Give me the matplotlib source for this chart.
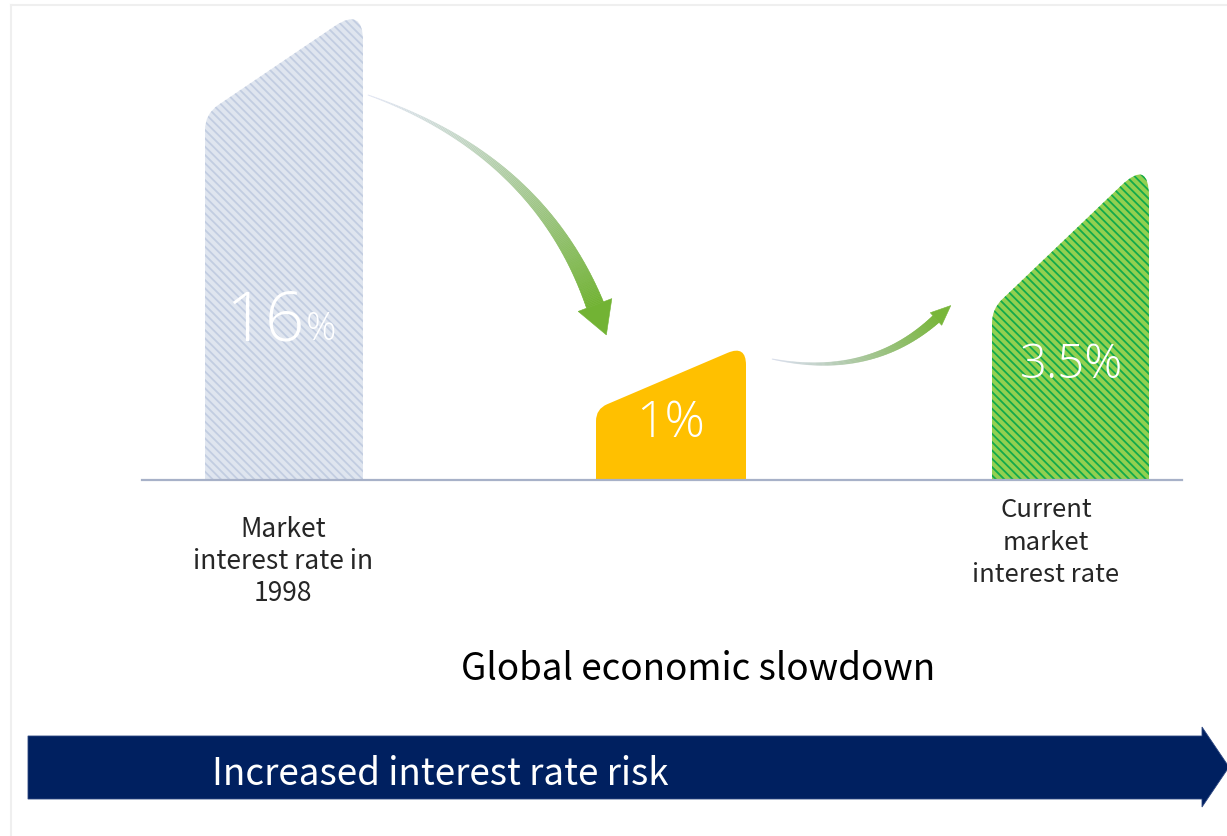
import numpy as np
import matplotlib
matplotlib.use("Agg")
import matplotlib.pyplot as plt
from matplotlib.path import Path
from matplotlib.patches import PathPatch, Polygon
from matplotlib.collections import PolyCollection
from matplotlib.colors import to_rgb

plt.rcParams['font.family'] = ['Noto Sans CJK KR', 'DejaVu Sans']
plt.rcParams['hatch.linewidth'] = 1.3

# ---------------- data ----------------
categories = ["Market\ninterest rate in\n1998", "", "Current\nmarket\ninterest rate"]
rate_values = [16, 1, 3.5]
rate_labels = ["16", "1%", "3.5%"]
# visual heights (px above baseline): right edge top and left shoulder
bar_top = [472, 134, 320]
bar_shoulder = [365, 70, 170]
bar_left = [205, 596, 992]
bar_right = [363, 746, 1149]
bottom_title = "Global economic slowdown"
band_text = "Increased interest rate risk"

BASE = 480
NUM_FONT = ['Open Sans', 'Noto Sans CJK KR', 'DejaVu Sans']


def rounded_path(pts, radii):
    verts, codes = [], []
    n = len(pts)
    for i, (p, r) in enumerate(zip(pts, radii)):
        p = np.array(p, float)
        if r <= 0:
            verts.append(p)
            codes.append(Path.MOVETO if i == 0 else Path.LINETO)
        else:
            prv = np.array(pts[i - 1], float)
            nxt = np.array(pts[(i + 1) % n], float)
            a = p + r * (prv - p) / np.linalg.norm(prv - p)
            b = p + r * (nxt - p) / np.linalg.norm(nxt - p)
            verts += [a, p, b]
            codes += [Path.LINETO, Path.CURVE3, Path.CURVE3]
    verts.append(verts[0])
    codes.append(Path.CLOSEPOLY)
    return Path(verts, codes)


def grad_arrow(ax, P0, P1, P2, w0, w1, c0, c1, a0, a1, head_len, head_w, head_color, n=200, p=1.0):
    P0, P1, P2 = map(lambda v: np.array(v, float), (P0, P1, P2))
    t = np.linspace(0, 1, n + 1)[:, None]
    pts = (1 - t) ** 2 * P0 + 2 * (1 - t) * t * P1 + t ** 2 * P2
    d = 2 * (1 - t) * (P1 - P0) + 2 * t * (P2 - P1)
    d = d / np.linalg.norm(d, axis=1)[:, None]
    nrm = np.column_stack([-d[:, 1], d[:, 0]])
    w = (w0 + (w1 - w0) * t[:, 0] ** p)[:, None]
    L = pts + nrm * w / 2
    R = pts - nrm * w / 2
    quads = [[L[i], L[i + 1], R[i + 1], R[i]] for i in range(n)]
    c0 = np.array(to_rgb(c0)); c1 = np.array(to_rgb(c1))
    tm = (t[:-1, 0] + t[1:, 0]) / 2
    cols = [tuple(c0 + (c1 - c0) * s) + (a0 + (a1 - a0) * s,) for s in tm]
    ax.add_collection(PolyCollection(quads, facecolors=cols, edgecolors=cols, linewidths=0.4))
    dirv = d[-1]
    nv = nrm[-1]
    tip = P2 + dirv * head_len
    head = [P2 + nv * head_w / 2, tip, P2 - nv * head_w / 2]
    ax.add_patch(Polygon(head, closed=True, facecolor=head_color, edgecolor=head_color, lw=0.4))


fig = plt.figure(figsize=(12.27, 8.37), dpi=100)
ax = fig.add_axes([0, 0, 1, 1])
ax.set_xlim(0, 1227)
ax.set_ylim(837, 0)
ax.axis('off')

# faint frame
ax.plot([11, 1227], [6, 6], color='#efefef', lw=1.5)
ax.plot([11, 11], [6, 837], color='#efefef', lw=1.5)

# bars
bar_styles = [
    dict(facecolor='#dfe5ef', edgecolor='#c2cde1', hatch='\\\\\\\\'),
    dict(facecolor='#ffc000', edgecolor='#ffc000', hatch=None),
    dict(facecolor='#92d050', edgecolor='#12aa4c', hatch='\\\\\\\\'),
]
radii = [(16, 34), (12, 20), (14, 38)]
for i in range(3):
    pts = [(bar_left[i], BASE), (bar_left[i], BASE - bar_shoulder[i]),
           (bar_right[i], BASE - bar_top[i]), (bar_right[i], BASE)]
    path = rounded_path(pts, [0, radii[i][0], radii[i][1], 0])
    ax.add_patch(PathPatch(path, lw=0, zorder=2, **bar_styles[i]))

# baseline
ax.plot([142, 1182], [BASE + 1, BASE + 1], color='#a7b1c8', lw=1.6, zorder=3)

# value labels
ax.text(305, 340, rate_labels[0], color='white', fontsize=50, fontweight='light',
        family=NUM_FONT, ha='right', va='baseline', zorder=4)
ax.text(306, 340, "%", color='white', fontsize=27, fontweight='light',
        family=NUM_FONT, ha='left', va='baseline', zorder=4)
ax.text(671, 437, rate_labels[1], color='white', fontsize=36, fontweight='light',
        family=NUM_FONT, ha='center', va='baseline', zorder=4)
ax.text(1071, 378, rate_labels[2], color='white', fontsize=34, fontweight='light',
        family=NUM_FONT, ha='center', va='baseline', zorder=4)

# category labels
for j, line in enumerate(categories[0].split("\n")):
    ax.text(283, 537 + 32 * j, line, color='#262626', fontsize=19, ha='center', va='baseline')
for j, line in enumerate(categories[2].split("\n")):
    ax.text(1046, 517 + 32.5 * j, line, color='#262626', fontsize=18.5, ha='center', va='baseline')

# curved gradient arrows
grad_arrow(ax, (368, 96), (538, 156), (595, 306), 0.5, 18, '#cdd4ec', '#72b334', 0.35, 1.0,
           32, 36, '#72b334', p=1.2)
grad_arrow(ax, (772, 360), (870, 380), (936, 320), 0.5, 9, '#c3cbe2', '#78b63a', 0.35, 1.0,
           20, 17, '#78b63a')

# title
ax.text(698, 680, bottom_title, color='black', fontsize=26.5, ha='center', va='baseline')

# navy band arrow
band = [(28, 737), (1202, 737), (1202, 728), (1229, 768), (1202, 808), (1202, 800), (28, 800)]
ax.add_patch(Polygon(band, closed=True, facecolor='#002060', edgecolor='#2c4680', lw=0.6))
ax.text(212, 785, band_text, color='white', fontsize=26.5, ha='left', va='baseline')

fig.savefig('out.png', dpi=100)
